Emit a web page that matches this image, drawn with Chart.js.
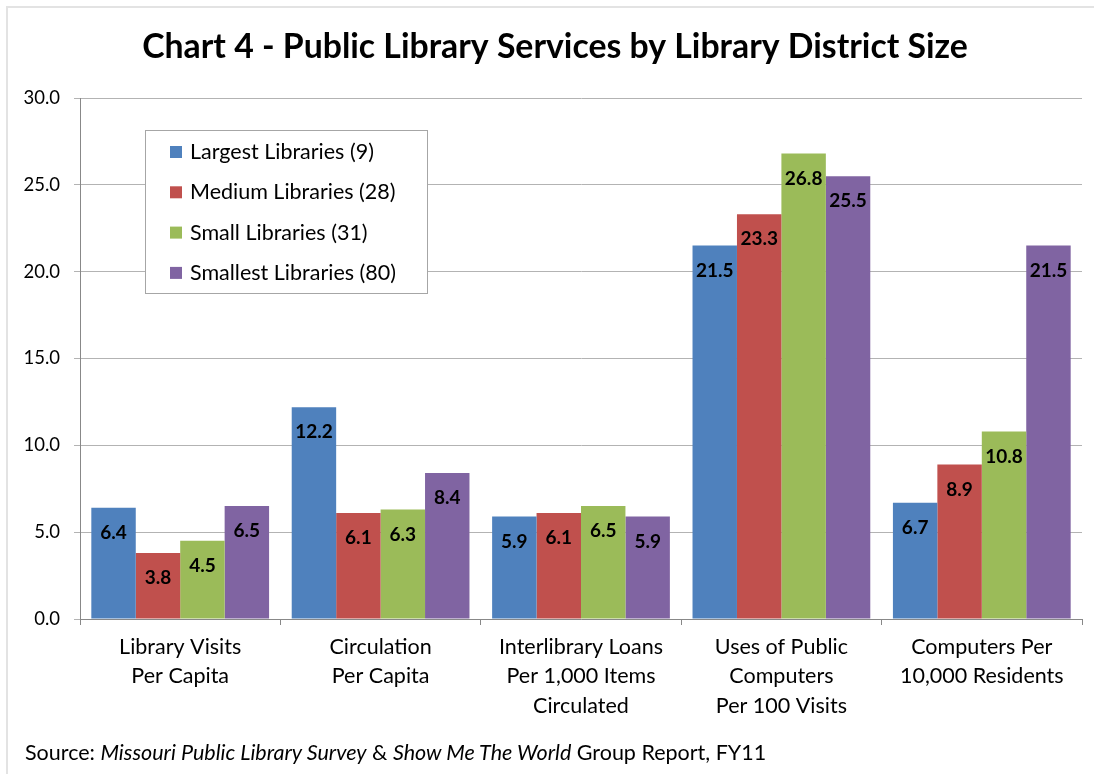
<!DOCTYPE html>
<html>
<head>
<meta charset="utf-8">
<script src="https://cdn.jsdelivr.net/npm/chart.js@4/dist/chart.umd.min.js"></script>
<style>
  html, body { margin: 0; padding: 0; background: #fff; }
  #wrap { position: relative; width: 1094px; height: 774px; }
  #frame { position: absolute; left: 6px; top: 6px; right: -4px; bottom: -4px;
           border-top: 2px solid #e3e3e3; border-left: 2px solid #e3e3e3; }
  #source { position: absolute; left: 25px; top: 739px; font: 21.5px Lato, sans-serif; color: #000; }
  canvas { position: absolute; left: 0; top: 0; }
</style>
</head>
<body>
<div id="wrap">
  <div id="frame"></div>
  <canvas id="chart" width="1094" height="774"></canvas>
  <div id="source">Source: <i>Missouri Public Library Survey</i> &amp; <i>Show Me The World</i> Group Report, FY11</div>
</div>
<script>
const chartTitle = "Chart 4 - Public Library Services by Library District Size";
const categories = [
  ["Library Visits", "Per Capita"],
  ["Circulation", "Per Capita"],
  ["Interlibrary Loans", "Per 1,000 Items", "Circulated"],
  ["Uses of Public", "Computers", "Per 100 Visits"],
  ["Computers Per", "10,000 Residents"]
];
const seriesNames = [
  "Largest Libraries (9)",
  "Medium Libraries (28)",
  "Small Libraries (31)",
  "Smallest Libraries (80)"
];
const largest = [6.4, 12.2, 5.9, 21.5, 6.7];
const medium = [3.8, 6.1, 6.1, 23.3, 8.9];
const small = [4.5, 6.3, 6.5, 26.8, 10.8];
const smallest = [6.5, 8.4, 5.9, 25.5, 21.5];
const colors = ["#4F81BD", "#C0504D", "#9BBB59", "#8064A2"];

const FONT = "Lato, sans-serif";

// title sits a bit right of the canvas centre, like the original
const titlePlugin = {
  id: "titleText",
  afterDraw(chart) {
    const ctx = chart.ctx;
    ctx.save();
    ctx.font = "bold 33.8px " + FONT;
    ctx.fillStyle = "#000";
    ctx.textAlign = "center";
    ctx.textBaseline = "middle";
    ctx.fillText(chartTitle, 555, 47);
    ctx.restore();
  }
};

// value labels just inside the top of each bar
const barLabels = {
  id: "barLabels",
  afterDatasetsDraw(chart) {
    const ctx = chart.ctx;
    ctx.save();
    ctx.font = "bold 19px " + FONT;
    ctx.fillStyle = "#000";
    ctx.textAlign = "center";
    ctx.textBaseline = "middle";
    chart.data.datasets.forEach((ds, i) => {
      chart.getDatasetMeta(i).data.forEach((bar, j) => {
        ctx.fillText(ds.data[j].toFixed(1), bar.x, bar.y + 25);
      });
    });
    ctx.restore();
  }
};

// boxed legend floating in the plot area
const boxLegend = {
  id: "boxLegend",
  afterDraw(chart) {
    const ctx = chart.ctx;
    const x = 145, y = 130, w = 282, h = 163;
    ctx.save();
    ctx.fillStyle = "#fff";
    ctx.fillRect(x, y, w, h);
    ctx.strokeStyle = "#a6a6a6";
    ctx.lineWidth = 1;
    ctx.strokeRect(x + 0.5, y + 0.5, w, h);
    ctx.font = "21.5px " + FONT;
    ctx.textBaseline = "middle";
    chart.data.datasets.forEach((ds, i) => {
      const cy = y + 22 + i * 40.3;
      ctx.fillStyle = ds.backgroundColor;
      ctx.fillRect(x + 25, cy - 6, 12, 12);
      ctx.fillStyle = "#000";
      ctx.fillText(ds.label, x + 45, cy);
    });
    ctx.restore();
  }
};

new Chart(document.getElementById("chart"), {
  type: "bar",
  data: {
    labels: categories,
    datasets: [largest, medium, small, smallest].map((d, i) => ({
      label: seriesNames[i],
      data: d,
      backgroundColor: colors[i],
      categoryPercentage: 0.887,
      barPercentage: 1.0
    }))
  },
  options: {
    responsive: false,
    animation: false,
    layout: { padding: { left: 0, right: 12, top: 98, bottom: 0 } },
    plugins: {
      legend: { display: false },
      tooltip: { enabled: false },
      title: { display: false }
    },
    scales: {
      x: {
        grid: { drawOnChartArea: false, drawTicks: true, tickLength: 6, offset: true, color: "#888" },
        border: { color: "#888", width: 1 },
        ticks: { color: "#000", padding: 8, font: { family: FONT, size: 21.5, lineHeight: 1.35 }, maxRotation: 0 },
        afterFit(scale) { scale.height = 155; }
      },
      y: {
        min: 0,
        max: 30,
        ticks: {
          stepSize: 5,
          color: "#000",
          padding: 14,
          font: { family: FONT, size: 18.5 },
          callback: (v) => v.toFixed(1)
        },
        grid: { color: "#b3b3b3", tickLength: 6 },
        border: { color: "#888", width: 1 },
        afterFit(scale) { scale.width = 80; }
      }
    }
  },
  plugins: [titlePlugin, barLabels, boxLegend]
});
</script>
</body>
</html>
